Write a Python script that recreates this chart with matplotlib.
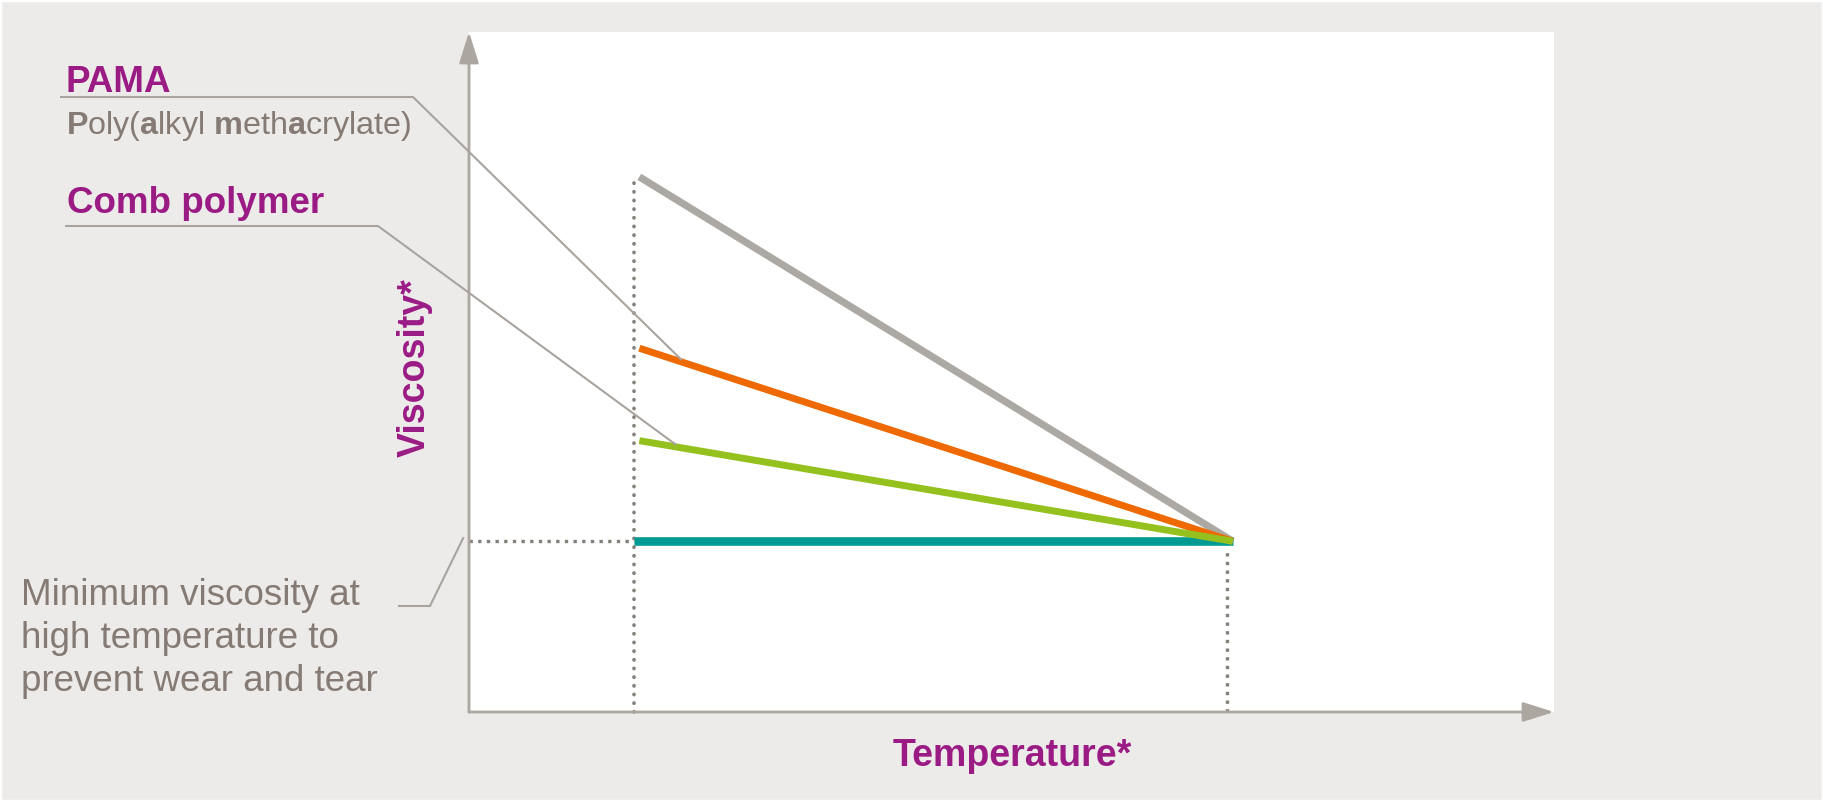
import matplotlib.pyplot as plt
import numpy as np
from matplotlib.patches import Rectangle

# axis positions in % of the plot box (no real units on the chart)
temperature = [15.7, 70.4]
conventional = [78.7, 25.1]
pama = [53.5, 25.1]
comb_polymer = [39.9, 25.1]
ideal_temperature = [15.2, 70.4]
ideal = [25.1, 25.1]

guide_x = [15.2, 69.9]
guide_top = [79.0, 23.7]
min_viscosity = 25.1

min_label_lines = ["Minimum viscosity at", "high temperature to", "prevent wear and tear"]

BG = "#EDEBE9"
PURPLE = "#9B1B85"
TEXT_GRAY = "#857B74"
AXIS_GRAY = "#ABA6A0"
LEADER_GRAY = "#A8A39E"
DOT_GRAY = "#857F7A"
LINE_COLORS = {
    "conventional": "#ACA8A3",
    "pama": "#EE6A00",
    "comb": "#95C11F",
    "ideal": "#009A93",
}

plt.rcParams["font.family"] = ["Liberation Sans", "DejaVu Sans"]
plt.rcParams["mathtext.fontset"] = "custom"
plt.rcParams["mathtext.rm"] = "Liberation Sans"
plt.rcParams["mathtext.bf"] = "Liberation Sans:bold"

W, H = 1823, 801
fig = plt.figure(figsize=(W / 100, H / 100), dpi=100, facecolor=BG)
fig.patches.append(
    Rectangle((0, 0), 1, 1, transform=fig.transFigure, fill=False,
              edgecolor="white", linewidth=2.5)
)

ax = fig.add_axes([469 / W, 89 / H, 1085 / W, 680 / H])
ax.set_facecolor("white")
ax.set_xlim(0, 100)
ax.set_ylim(0, 100)
for s in ax.spines.values():
    s.set_visible(False)
ax.set_xticks([])
ax.set_yticks([])

# dotted guides
ax.plot([guide_x[0], guide_x[0]], [0, guide_top[0]], color=DOT_GRAY, lw=2.6,
        linestyle=(0, (0.1, 2.3)), dash_capstyle="round", clip_on=False)
ax.plot([guide_x[1], guide_x[1]], [0, guide_top[1]], color=DOT_GRAY, lw=2.4,
        linestyle=(0, (1, 1.6)), dash_capstyle="butt", clip_on=False)
ax.plot([0, guide_x[0]], [min_viscosity, min_viscosity], color=DOT_GRAY, lw=2.4,
        linestyle=(0, (1, 1.6)), dash_capstyle="butt", clip_on=False)

# series
ax.plot(temperature, conventional, color=LINE_COLORS["conventional"], lw=5.2,
        solid_capstyle="butt", zorder=3)
ax.plot(ideal_temperature, ideal, color=LINE_COLORS["ideal"], lw=6.2,
        solid_capstyle="butt", zorder=3)
ax.plot(temperature, pama, color=LINE_COLORS["pama"], lw=5.0,
        solid_capstyle="butt", zorder=4)
ax.plot(temperature, comb_polymer, color=LINE_COLORS["comb"], lw=5.0,
        solid_capstyle="butt", zorder=5)

# axis arrows
arrow = dict(arrowstyle="-|>,head_length=0.95,head_width=0.3", mutation_scale=20,
             lw=2, color=AXIS_GRAY, shrinkA=0, shrinkB=0)
ax.annotate("", xy=(1, 0), xytext=(0, 0), xycoords="axes fraction",
            textcoords="axes fraction", arrowprops=arrow)
ax.annotate("", xy=(0, 1), xytext=(0, 0), xycoords="axes fraction",
            textcoords="axes fraction", arrowprops=arrow)

# overlay in figure pixels for labels and leaders
ov = fig.add_axes([0, 0, 1, 1], zorder=5)
ov.set_xlim(0, W)
ov.set_ylim(H, 0)
ov.axis("off")
ov.patch.set_visible(False)


def to_px(x, y):
    return ov.transData.inverted().transform(ax.transData.transform((x, y)))


pama_end = to_px(19.6, np.interp(19.6, temperature, pama))
comb_end = to_px(19.1, np.interp(19.1, temperature, comb_polymer))
min_end = to_px(-0.5, min_viscosity + 0.6)

leader = dict(color=LEADER_GRAY, lw=1.5, solid_capstyle="butt")
ov.plot([60, 413, pama_end[0]], [97, 97, pama_end[1] - 2], **leader)
ov.plot([65, 378, comb_end[0]], [226, 226, comb_end[1] - 2], **leader)
ov.plot([398, 430, min_end[0]], [606, 606, min_end[1]], **leader)

ov.text(66, 92, "PAMA", color=PURPLE, fontsize=26.5, fontweight="bold", va="baseline")
ov.text(66, 134, r"$\mathbf{P}$oly($\mathbf{a}$lkyl $\mathbf{m}$eth$\mathbf{a}$crylate)",
        color=TEXT_GRAY, fontsize=23.3, va="baseline")
ov.text(67, 213, "Comb polymer", color=PURPLE, fontsize=26.5, fontweight="bold",
        va="baseline")

for i, line in enumerate(min_label_lines):
    ov.text(21, 605 + i * 43, line, color=TEXT_GRAY, fontsize=26.5, va="baseline")

ov.text(1012, 766, "Temperature*", color=PURPLE, fontsize=27, fontweight="bold",
        ha="center", va="baseline")
ov.text(415, 368, "Viscosity*", color=PURPLE, fontsize=27, fontweight="bold",
        rotation=90, ha="center", va="center")

fig.savefig("out.png", dpi=100, facecolor=BG)
